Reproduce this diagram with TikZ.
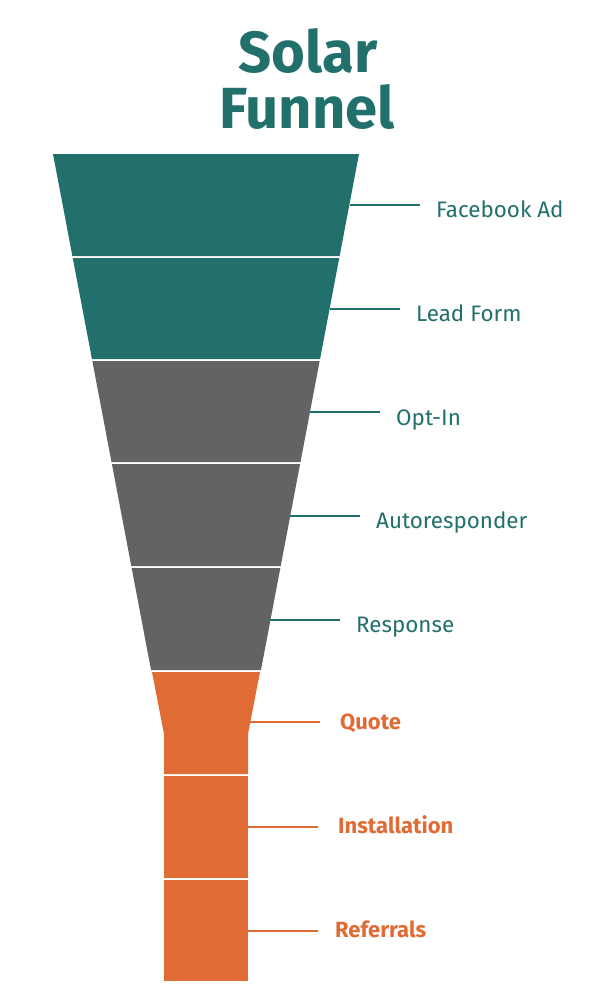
\documentclass[tikz,border=0pt]{standalone}
\usepackage{fontspec}
\setmainfont{Fira Sans}
\definecolor{teal}{HTML}{21706B}
\definecolor{fgray}{HTML}{636363}
\definecolor{forange}{HTML}{E06B34}
\begin{document}
\begin{tikzpicture}[x=1pt,y=-1pt,
  lbl/.style={anchor=base west,inner sep=0pt,font=\fontsize{22.4}{24}\selectfont},
  tlbl/.style={lbl,text=teal},
  olbl/.style={lbl,text=forange,font=\fontsize{22}{24}\selectfont\bfseries},
  ttl/.style={text=teal,inner sep=0pt,anchor=base,font=\fontsize{58}{56}\selectfont\bfseries},
  tline/.style={draw=teal,line width=1.6pt},
  oline/.style={draw=forange,line width=1.6pt}]
\useasboundingbox (0,0) rectangle (614,994);
% title
\node[ttl] (t1) at (308,72) {Solar};
\node[ttl] (t2) at (307,128) {Funnel};
% funnel bands (left edge: x = 53 + 0.19*(y-154))
\def\lx#1{53+0.19*(#1-154)}
\def\rx#1{359-0.19*(#1-154)}
\foreach \t/\b/\c in {154/256/teal,258/359/teal,361/462/fgray,464/566/fgray,568/670/fgray}{
  \fill[\c] ({\lx{\t}},\t) -- ({\rx{\t}},\t) -- ({\rx{\b}},\b) -- ({\lx{\b}},\b) -- cycle;
}
\fill[forange] (152,672) -- (260,672) -- (248,734) -- (248,774) -- (164,774) -- (164,734) -- cycle;
\fill[forange] (164,776) rectangle (248,878);
\fill[forange] (164,880) rectangle (248,981);
% labels
\node[tlbl] (l1) at (436,217) {Facebook Ad};
\node[tlbl] (l2) at (416,321) {Lead Form};
\node[tlbl] (l3) at (396,425) {Opt-In};
\node[tlbl] (l4) at (376,528) {Autoresponder};
\node[tlbl] (l5) at (356,632) {Response};
\node[olbl] (l6) at (340,729) {Quote};
\node[olbl] (l7) at (338,833) {Installation};
\node[olbl] (l8) at (335,937) {Referrals};
% connector start points
\coordinate (c1) at (350,205);
\coordinate (c2) at (330,309);
\coordinate (c3) at (310,412);
\coordinate (c4) at (290,516);
\coordinate (c5) at (270,620);
\coordinate (c6) at (250,722);
\coordinate (c7) at (248,827);
\coordinate (c8) at (248,931);
\draw[tline,shorten >=16pt] (c1) -- (c1 -| l1.west);
\draw[tline,shorten >=16pt] (c2) -- (c2 -| l2.west);
\draw[tline,shorten >=16pt] (c3) -- (c3 -| l3.west);
\draw[tline,shorten >=16pt] (c4) -- (c4 -| l4.west);
\draw[tline,shorten >=16pt] (c5) -- (c5 -| l5.west);
\draw[oline,shorten >=20pt] (c6) -- (c6 -| l6.west);
\draw[oline,shorten >=20pt] (c7) -- (c7 -| l7.west);
\draw[oline,shorten >=17pt] (c8) -- (c8 -| l8.west);
\end{tikzpicture}
\end{document}
